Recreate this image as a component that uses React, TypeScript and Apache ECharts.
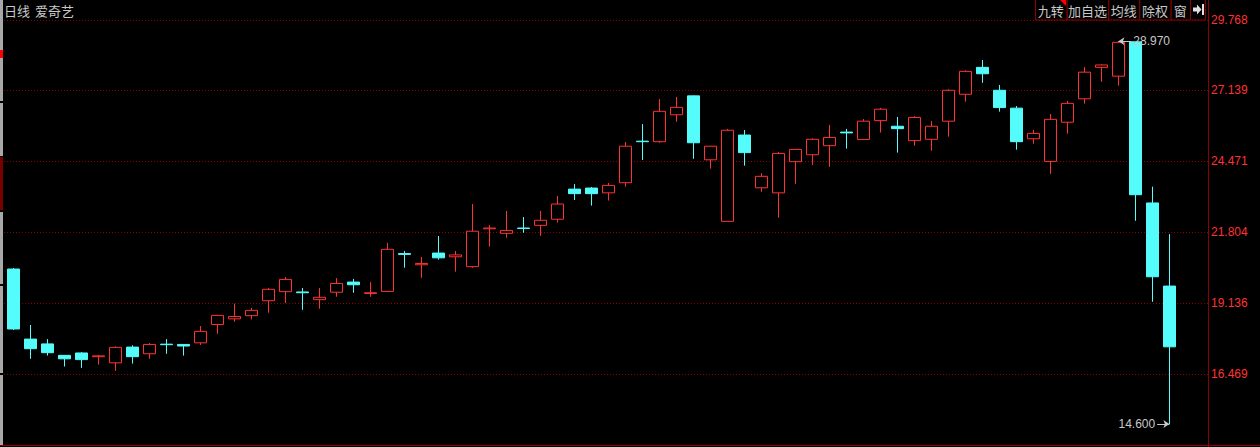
import React, { useEffect, useRef } from 'react';
import * as echarts from 'echarts';

const PERIOD = '日线';
const STOCK_NAME = '爱奇艺';
const BUTTONS = ['九转', '加自选', '均线', '除权', '窗'];
const Y_TICKS = [29.768, 27.139, 24.471, 21.804, 19.136, 16.469];

const OPEN = [
  20.42, 17.79, 17.61, 17.18, 17.27, 17.13, 16.9, 17.49, 17.24, 17.6,
  17.59, 17.65, 18.34, 18.55, 18.67, 19.23, 19.57, 19.56, 19.27, 19.55,
  19.93, 19.5, 19.58, 21.0, 20.58, 21.02, 20.88, 20.51, 21.93, 21.76,
  21.96, 22.06, 22.29, 23.42, 23.46, 23.28, 23.66, 25.22, 25.2, 26.21,
  26.92, 24.52, 22.21, 25.45, 23.47, 23.28, 24.45, 24.71, 25.05, 25.56,
  25.28, 25.99, 25.78, 25.24, 25.29, 25.97, 26.98, 27.99, 27.13, 26.46,
  25.31, 24.46, 25.93, 26.81, 27.99, 27.66, 28.95, 22.9, 19.78,
];
const CLOSE = [
  18.17, 17.43, 17.28, 17.05, 17.02, 17.16, 17.48, 17.13, 17.59, 17.58,
  17.53, 18.08, 18.68, 18.64, 18.87, 19.66, 20.03, 19.53, 19.36, 19.88,
  19.83, 19.53, 21.16, 20.97, 20.63, 20.84, 20.95, 21.84, 21.96, 21.87,
  21.94, 22.25, 22.86, 23.25, 23.25, 23.56, 25.03, 25.2, 26.34, 26.49,
  25.16, 25.03, 25.63, 24.79, 23.9, 24.76, 24.91, 25.29, 25.36, 25.53,
  25.97, 26.42, 25.69, 26.11, 25.78, 27.13, 27.84, 27.75, 26.48, 25.2,
  25.51, 26.04, 26.64, 27.81, 28.08, 28.93, 23.21, 20.13, 17.5,
];
const LOW = [
  18.13, 17.05, 17.17, 16.76, 16.71, 16.83, 16.6, 16.87, 17.05, 17.24,
  17.17, 17.57, 17.99, 18.44, 18.53, 18.78, 19.14, 18.89, 18.93, 19.38,
  19.53, 19.38, 19.55, 20.47, 20.09, 20.77, 20.32, 20.47, 21.26, 21.6,
  21.78, 21.67, 22.16, 23.01, 22.8, 22.99, 23.51, 24.51, 25.16, 25.95,
  24.56, 24.19, 22.2, 24.3, 23.32, 22.35, 23.62, 24.32, 24.26, 24.94,
  25.27, 25.54, 24.79, 25.05, 24.86, 25.39, 26.7, 27.41, 26.33, 24.9,
  25.12, 23.99, 25.5, 26.63, 27.45, 27.3, 22.23, 19.19, 14.6,
];
const HIGH = [
  20.46, 18.32, 17.79, 17.19, 17.3, 17.19, 17.52, 17.56, 17.64, 17.79,
  17.6, 18.28, 18.69, 19.12, 18.96, 19.71, 20.12, 19.71, 19.71, 20.08,
  20.05, 19.93, 21.4, 21.1, 20.87, 21.66, 21.1, 22.86, 22.07, 22.6,
  22.37, 22.6, 23.16, 23.61, 23.5, 23.65, 25.19, 25.86, 26.8, 26.88,
  26.93, 25.04, 25.68, 25.64, 24.02, 24.81, 24.92, 25.33, 25.83, 25.68,
  26.05, 26.47, 26.13, 26.16, 25.98, 27.17, 27.88, 28.27, 27.33, 26.54,
  25.64, 26.24, 26.73, 28.0, 28.11, 28.97, 28.95, 23.51, 21.73,
];

const HIGH_MARK_INDEX = 65;
const HIGH_MARK_VALUE = 28.97;
const LOW_MARK_INDEX = 68;
const LOW_MARK_VALUE = 14.6;

const RED = '#ff3232';
const CYAN = '#54fcfc';
const DARK_RED = '#8b0000';
const GRAY = '#c8c8c8';

export default function App() {
  const ref = useRef<HTMLDivElement>(null);
  useEffect(() => {
    if (!ref.current) return;
    const chart = echarts.init(ref.current, undefined, { renderer: 'svg' });
    const data = OPEN.map((o, i) => [i, o, CLOSE[i], LOW[i], HIGH[i]]);

    const btnEdges = [1035, 1066.7, 1108.3, 1139.3, 1170.7, 1190, 1205];
    const graphics: any[] = [];
    // left tab strip
    const strips = [
      [0, 101, '#a8a8a8'], [103, 156, '#a8a8a8'], [157, 210, '#7a0000'],
      [212, 284, '#a8a8a8'], [286, 373, '#a8a8a8'], [375, 445, '#a8a8a8'],
      [50, 58, '#ff0000'],
    ];
    strips.forEach(([a, b, c]) => {
      graphics.push({ type: 'rect', shape: { x: 0, y: a as number, width: 3, height: (b as number) - (a as number) }, style: { fill: c as string }, silent: true });
    });
    graphics.push({ type: 'text', x: 4, y: 10.5, style: { text: PERIOD, fill: GRAY, font: '13px "Noto Sans CJK SC"', verticalAlign: 'middle' } });
    graphics.push({ type: 'text', x: 35, y: 10.5, style: { text: STOCK_NAME, fill: GRAY, font: '13px "Noto Sans CJK SC"', verticalAlign: 'middle' } });
    BUTTONS.forEach((b, i) => {
      const x0 = btnEdges[i];
      const x1 = btnEdges[i + 1];
      graphics.push({ type: 'rect', shape: { x: x0 + 0.5, y: -1, width: x1 - x0, height: 21 }, style: { fill: '#000', stroke: DARK_RED, lineWidth: 1 } });
      graphics.push({ type: 'text', x: (x0 + x1) / 2, y: 10.5, style: { text: b, fill: GRAY, font: '13px "Noto Sans CJK SC"', align: 'center', verticalAlign: 'middle' } });
    });
    graphics.push({ type: 'rect', shape: { x: 1190.5, y: -1, width: 15, height: 21 }, style: { fill: '#000', stroke: DARK_RED, lineWidth: 1 } });
    graphics.push({ type: 'polygon', shape: { points: [[1060, 0], [1066, 0], [1066, 6]] }, style: { fill: '#ff0000' } });
    graphics.push({ type: 'polygon', shape: { points: [[1193, 7.5], [1197, 7.5], [1197, 4.5], [1201.5, 9.5], [1197, 14.5], [1197, 11.5], [1193, 11.5]] }, style: { fill: '#e0e0e0' } });
    graphics.push({ type: 'rect', shape: { x: 1202, y: 4, width: 2, height: 11 }, style: { fill: '#e0e0e0' } });
    graphics.push({ type: 'line', shape: { x1: 1208.5, y1: 0, x2: 1208.5, y2: 447 }, style: { stroke: DARK_RED, lineWidth: 1 } });
    graphics.push({ type: 'line', shape: { x1: 0, y1: 445.5, x2: 1260, y2: 445.5 }, style: { stroke: DARK_RED, lineWidth: 1 } });

    chart.setOption({
      animation: false,
      backgroundColor: '#000',
      grid: { left: 4, top: 20, right: 52, bottom: 2 },
      xAxis: {
        type: 'value', min: -0.547, max: 70.27,
        axisLine: { show: false }, axisTick: { show: false }, axisLabel: { show: false }, splitLine: { show: false },
      },
      yAxis: {
        type: 'value', position: 'right', min: 13.815, max: Y_TICKS[0],
        axisLine: { show: false },
        axisTick: { show: false, customValues: Y_TICKS },
        axisLabel: {
          customValues: Y_TICKS, color: RED, fontSize: 12, fontFamily: 'Liberation Sans, Arial', margin: 3,
          formatter: (v: number) => v.toFixed(3),
        },
        splitLine: { show: true, lineStyle: { color: DARK_RED, type: [1, 2], width: 1 } },
      },
      graphic: graphics,
      series: [
        {
          type: 'candlestick',
          data,
          barWidth: 12,
          itemStyle: { color: '#000', color0: CYAN, borderColor: RED, borderColor0: CYAN, borderWidth: 1 },
          markLine: {
            silent: true,
            animation: false,
            symbolSize: 6,
            lineStyle: { color: GRAY, type: 'solid', width: 1 },
            label: { color: GRAY, fontSize: 12, fontFamily: 'Liberation Sans, Arial', distance: 2 },
            data: [
              [
                { coord: [HIGH_MARK_INDEX, HIGH_MARK_VALUE], symbol: 'arrow', label: { position: 'end', formatter: HIGH_MARK_VALUE.toFixed(3) } },
                { coord: [HIGH_MARK_INDEX + 0.76, HIGH_MARK_VALUE], symbol: 'none' },
              ],
              [
                { coord: [LOW_MARK_INDEX - 0.72, LOW_MARK_VALUE], symbol: 'none', label: { position: 'start', formatter: LOW_MARK_VALUE.toFixed(3) } },
                { coord: [LOW_MARK_INDEX, LOW_MARK_VALUE], symbol: 'arrow' },
              ],
            ],
          },
        },
      ],
    });
    return () => chart.dispose();
  }, []);
  return (
    <div style={{ position: 'fixed', left: 0, top: 0, width: 1260, height: 447, background: '#000' }}>
      <div ref={ref} style={{ width: 1260, height: 447 }} />
    </div>
  );
}
